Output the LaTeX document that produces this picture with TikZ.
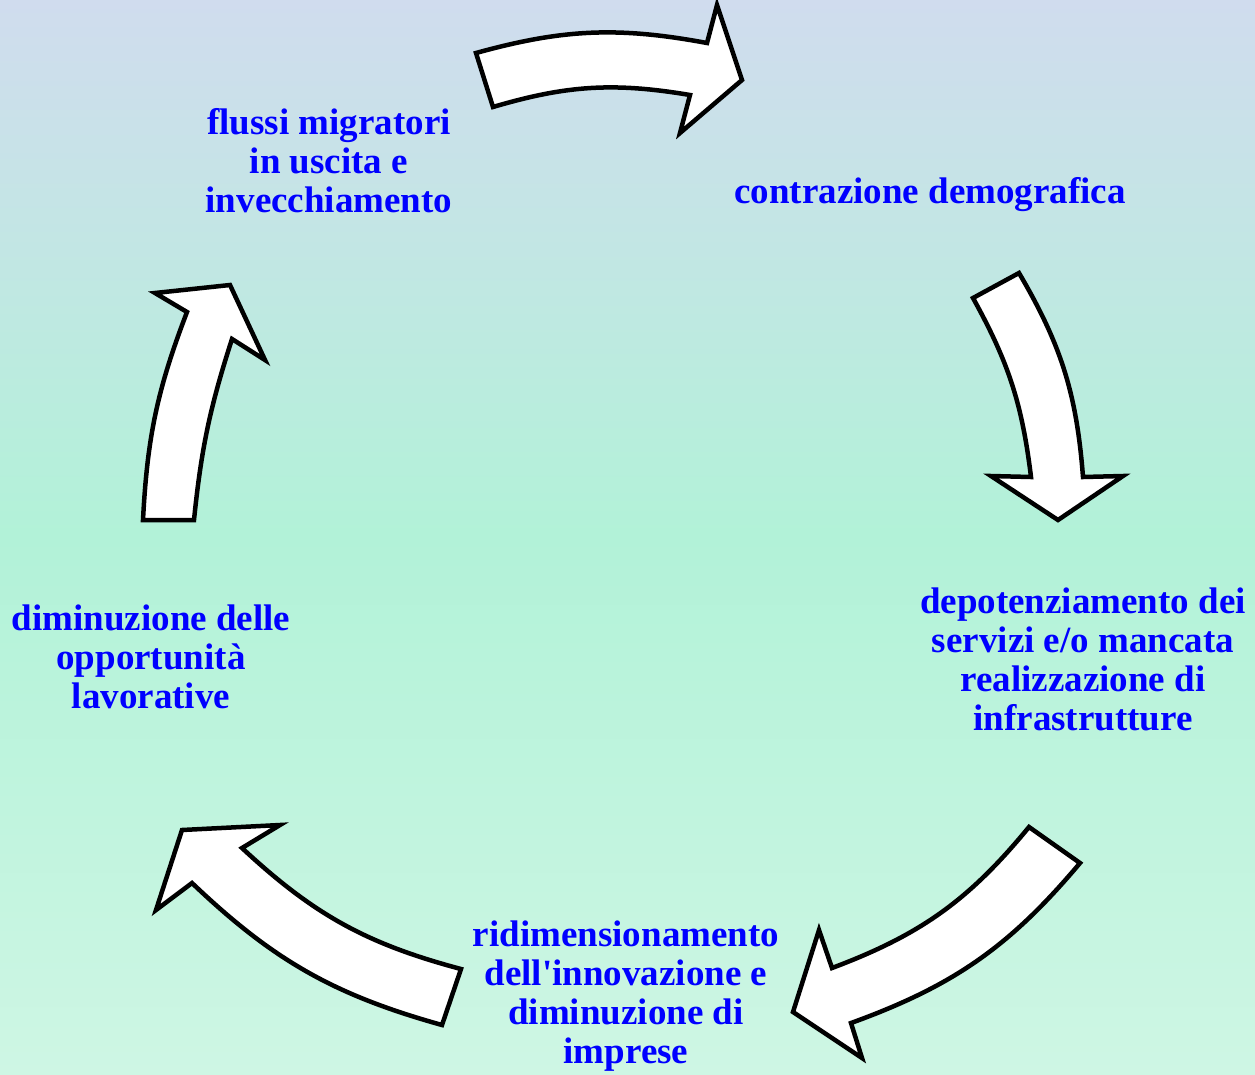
\documentclass[tikz,border=0pt]{standalone}
\usepackage{fontspec}
\setmainfont{Liberation Serif}
\usepackage{xcolor}

\definecolor{bgtop}{RGB}{208,220,238}
\definecolor{bgmid}{RGB}{178,242,216}
\definecolor{bgbot}{RGB}{206,246,228}

\pgfdeclareverticalshading{cyclebg}{100bp}{color(0bp)=(bgbot); color(25bp)=(bgbot);
	color(50bp)=(bgmid); color(75bp)=(bgtop); color(100bp)=(bgtop)}

\begin{document}
\begin{tikzpicture}[x=1pt, y=-1pt,
		cycle text/.style={text=blue, font=\fontsize{37}{38.8}\selectfont\bfseries,
			align=center, inner sep=0pt, anchor=base},
		block arrow/.style={draw=black, fill=white, line width=4.5pt, line join=miter}]
		
		\shade [shading=cyclebg] (0,0) rectangle (1255,1074);
		\useasboundingbox (0,0) rectangle (1255,1074);
		
		% the five curved arrows
		\draw [block arrow] (476,53) to[bend left=13] (707,43) -- (717,5) -- (742,80)
			-- (680,133) -- (690,95) to[bend right=13] (493,107) -- cycle;
		\draw [block arrow] (973,298) -- (1019,273) to[bend left=13] (1083,477) -- (1123,476)
			-- (1058,520) -- (991,476) -- (1031,477) to[bend right=11] cycle;
		\draw [block arrow] (1029,827) -- (1080,863) to[bend left=15] (851,1023) -- (862,1058)
			-- (793,1012) -- (819,930) -- (832,968) to[bend right=15] cycle;
		\draw [block arrow] (461,969) to[bend left=14] (242,848) -- (280,825) -- (182,830)
			-- (156,910) -- (192,883) to[bend right=14] (442,1025) -- cycle;
		\draw [block arrow] (143,520) to[bend left=9] (187,312) -- (155,293) -- (230,285)
			-- (265,360) -- (232,339) to[bend right=6] (194,520) -- cycle;
		
		% texts (base = last line)
		\node [cycle text] (flussi) at (329,212) {flussi migratori\\in uscita e\\invecchiamento};
		\node [cycle text] (contrazione) at (930,203) {contrazione demografica};
		\node [cycle text] (servizi) at (1083,730) {depotenziamento dei\\servizi e/o mancata\\realizzazione di\\infrastrutture};
		\node [cycle text] (imprese) at (626,1063) {ridimensionamento\\dell\textquotesingle innovazione e\\diminuzione di\\imprese};
		\node [cycle text] (lavoro) at (151,708) {diminuzione delle\\opportunità\\lavorative};
	\end{tikzpicture}
\end{document}
